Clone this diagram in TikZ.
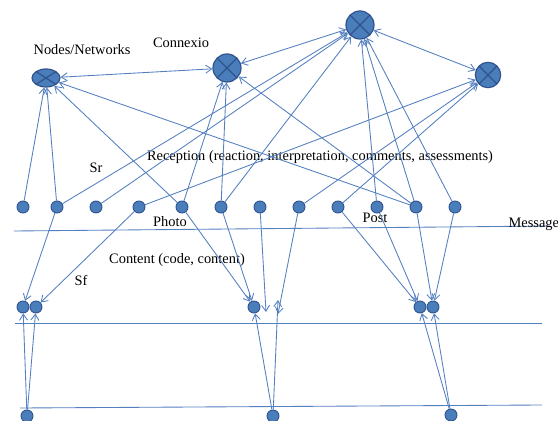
\documentclass[tikz,border=0pt]{standalone}
\usepackage{fontspec}
\setmainfont{Liberation Serif}
\usetikzlibrary{arrows.meta,shapes.geometric}
\definecolor{hubfill}{RGB}{74,126,187}
\definecolor{hubedge}{RGB}{47,82,143}
\definecolor{linkblue}{RGB}{84,128,192}

\begin{document}
\begin{tikzpicture}[x=0.75pt,y=-0.75pt,
    hub/.style={circle,draw=hubedge,fill=hubfill,line width=0.9pt,inner sep=0pt,
        minimum size=21pt,path picture={\draw[hubedge,line width=0.9pt]
        (path picture bounding box.north west)--(path picture bounding box.south east)
        (path picture bounding box.north east)--(path picture bounding box.south west);}},
    member/.style={circle,draw=hubedge,fill=hubfill,line width=0.7pt,
        inner sep=0pt,minimum size=9pt},
    lbl/.style={font=\fontsize{10.8}{13}\selectfont,inner sep=1pt},
    flow/.style={-{Straight Barb[length=4.5pt,width=6pt]},draw=linkblue,line width=0.65pt},
    link2/.style={{Straight Barb[length=4.5pt,width=6pt]}-{Straight Barb[length=4.5pt,width=6pt]},
        draw=linkblue,line width=0.65pt},
    sepline/.style={draw=linkblue,line width=0.65pt}
]
    \useasboundingbox (0,0) rectangle (558,421);

    % hubs
    \node[hub,ellipse,minimum width=21pt,minimum height=13.5pt] (net) at (46,78) {};
    \node[hub] (cnx) at (227,68) {};
    \node[hub] (top) at (360,25) {};
    \node[hub,minimum size=19pt] (right) at (488,75) {};
    \node[lbl] (lnet) at (82,50) {Nodes/Networks};
    \node[lbl] (lcnx) at (181,43) {Connexio};

    % message row
    \node[member] (m1) at (23,207) {};
    \node[member] (m2) at (57,207) {};
    \node[member] (m3) at (96,207) {};
    \node[member] (m4) at (139,207) {};
    \node[member] (m5) at (182,207) {};
    \node[member] (m6) at (221,207) {};
    \node[member] (m7) at (260,207) {};
    \node[member] (m8) at (299,207) {};
    \node[member] (m9) at (338,207) {};
    \node[member] (m10) at (377,207) {};
    \node[member] (m11) at (416,207) {};
    \node[member] (m12) at (455,207) {};

    % content row
    \node[member] (cl1) at (23,307) {};
    \node[member] (cl2) at (36,307) {};
    \node[member] (cm) at (254,307) {};
    \node[member] (cr1) at (420,307) {};
    \node[member] (cr2) at (433,307) {};
    \coordinate (free) at (266,312);
    \coordinate (hup) at (278,300);
    \coordinate (hdown) at (278,314);

    % bottom row
    \node[member] (b1) at (27,416) {};
    \node[member] (b2) at (273,416) {};
    \node[member] (b3) at (451,415) {};

    % separating lines
    \coordinate (s1a) at (14,231); \coordinate (s1b) at (550,226);
    \coordinate (s2a) at (15,323); \coordinate (s2b) at (542,323);
    \coordinate (s3a) at (20,408); \coordinate (s3b) at (542,405);
    \draw[sepline] (s1a)--(s1b);
    \draw[sepline] (s2a)--(s2b);
    \draw[sepline] (s3a)--(s3b);

    \node[lbl] (lsr) at (96,168) {Sr};
    \node[lbl] (lrec) at (320,157)
        {Reception (reaction, interpretation, comments, assessments)};
    \node[lbl] (lpho) at (170,222) {Photo};
    \node[lbl] (lpost) at (375,218) {Post};
    \node[lbl,anchor=west] (lmsg) at (507,224) {Message};
    \node[lbl] (lcon) at (177,260) {Content (code, content)};
    \node[lbl] (lsf) at (81,280) {Sf};

    % between hubs
    \draw[link2] (net)--(cnx);
    \draw[link2] (cnx)--(top);
    \draw[link2] (top)--(right);

    % message row to hubs
    \draw[flow] (m1)--(net);
    \draw[flow] (m2)--(net);
    \draw[flow] (m5)--(net);
    \draw[flow] (m11)--(net);
    \draw[flow] (m5)--(cnx);
    \draw[flow] (m6)--(cnx);
    \draw[flow] (m11)--(cnx);
    \draw[flow] (m2)--(top);
    \draw[flow] (m3)--(top);
    \draw[flow] (m6)--(top);
    \draw[flow] (m10)--(top);
    \draw[flow] (m11)--(top);
    \draw[flow] (m12)--(top);
    \draw[flow] (m4)--(right);
    \draw[flow] (m8)--(right);
    \draw[flow] (m9)--(right);

    % message row to content row
    \draw[flow] (m2)--(cl1);
    \draw[flow] (m4)--(cl2);
    \draw[flow] (m5)--(cm);
    \draw[flow] (m6)--(cm);
    \draw[flow] (m7)--(free);
    \draw[flow] (m8)--(hdown);
    \draw[flow] (m9)--(cr1);
    \draw[flow] (m10)--(cr1);
    \draw[flow] (m11)--(cr2);
    \draw[flow] (m12)--(cr2);

    % bottom row to content row
    \draw[flow] (b1)--(cl1);
    \draw[flow] (b1)--(cl2);
    \draw[flow] (b2)--(cm);
    \draw[flow] (b2)--(hup);
    \draw[flow] (b3)--(cr1);
    \draw[flow] (b3)--(cr2);
\end{tikzpicture}
\end{document}
